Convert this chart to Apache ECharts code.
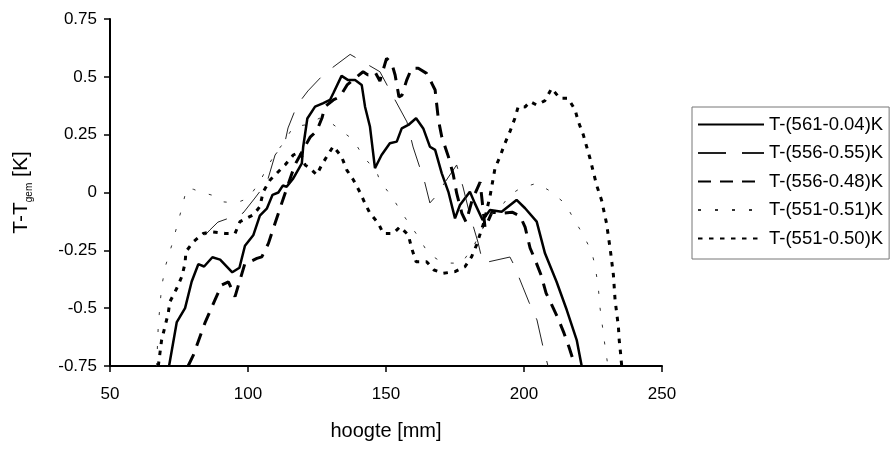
<!DOCTYPE html>
<html>
<head>
<meta charset="utf-8">
<script src="https://cdn.jsdelivr.net/npm/echarts@6/dist/echarts.min.js"></script>
<style>
html,body{margin:0;padding:0;background:#fff;}
#chart{width:896px;height:450px;}
</style>
</head>
<body>
<div id="chart"></div>
<script>
// Series names (legend)
const seriesNames = ['T-(561-0.04)K', 'T-(556-0.55)K', 'T-(556-0.48)K', 'T-(551-0.51)K', 'T-(551-0.50)K'];

// Axis ticks
const xTicks = [50, 100, 150, 200, 250];
const yTicks = [-0.75, -0.5, -0.25, 0, 0.25, 0.5, 0.75];
const yTickLabels = ['-0.75', '-0.5', '-0.25', '0', '0.25', '0.5', '0.75'];

// [hoogte mm, T - Tgem K]
const s561_004 = [[71.4,-0.75],[74.2,-0.56],[77.2,-0.50],[79.6,-0.385],[82.0,-0.31],[84.1,-0.32],[87.1,-0.28],[89.9,-0.29],[94.3,-0.345],[96.9,-0.325],[98.9,-0.23],[101.9,-0.185],[104.3,-0.10],[106.8,-0.07],[108.9,-0.01],[111.0,0.0],[112.6,0.03],[114.0,0.025],[116.4,0.061],[119.5,0.126],[120.0,0.198],[121.5,0.32],[124.3,0.371],[127.3,0.386],[129.7,0.40],[130.9,0.429],[133.9,0.504],[136.3,0.486],[138.8,0.486],[141.2,0.465],[142.4,0.371],[144.2,0.284],[146.0,0.105],[148.4,0.162],[151.4,0.213],[153.9,0.22],[155.7,0.277],[158.1,0.292],[160.9,0.321],[163.5,0.277],[165.9,0.198],[167.8,0.184],[170.2,0.083],[172.6,0.003],[175.0,-0.112],[176.8,-0.054],[180.4,0.003],[182.2,-0.047],[185.0,-0.119],[187.7,-0.076],[191.9,-0.083],[197.3,-0.032],[200.4,-0.068],[204.6,-0.126],[207.6,-0.263],[211.8,-0.386],[215.5,-0.508],[219.1,-0.638],[220.9,-0.75]];

const s556_055 = [[84.4,-0.185],[86.2,-0.162],[89.1,-0.128],[98.2,-0.089],[102.5,-0.024],[106.9,0.045],[109.8,0.162],[113.4,0.218],[114.5,0.279],[117.8,0.378],[121.7,0.439],[127.2,0.508],[130.4,0.538],[137.0,0.597],[139.9,0.577],[147.8,0.522],[152.5,0.417],[157.6,0.305],[159.8,0.197],[162.3,0.106],[164.1,0.041],[165.9,-0.045],[167.8,-0.02],[171.4,0.045],[175.6,0.119],[177.9,0.024],[180.4,-0.097],[183.3,-0.214],[185.1,-0.305],[187.0,-0.30],[194.9,-0.279],[196.4,-0.314],[199.6,-0.409],[201.8,-0.474],[204.7,-0.551],[206.9,-0.668],[208.7,-0.75]];

const s556_048 = [[78.3,-0.75],[80.2,-0.703],[84.4,-0.564],[88.0,-0.465],[90.5,-0.40],[92.9,-0.386],[95.3,-0.45],[97.1,-0.378],[98.9,-0.306],[100.7,-0.299],[103.2,-0.285],[105.0,-0.278],[107.4,-0.22],[109.8,-0.133],[112.2,-0.047],[117.0,0.12],[122.5,0.239],[124.9,0.266],[126.8,0.322],[127.9,0.371],[130.9,0.40],[133.3,0.414],[135.9,0.465],[138.8,0.494],[141.7,0.522],[143.5,0.508],[146.0,0.521],[147.8,0.482],[150.2,0.58],[152.1,0.558],[153.3,0.508],[154.7,0.413],[155.8,0.421],[157.5,0.486],[159.3,0.537],[161.7,0.537],[164.7,0.515],[166.6,0.472],[167.8,0.443],[169.0,0.313],[170.2,0.241],[171.4,0.198],[172.6,0.155],[174.4,0.076],[175.6,-0.003],[177.5,-0.09],[179.0,-0.128],[181.2,-0.033],[184.1,0.045],[185.9,-0.153],[188.4,-0.085],[192.4,-0.089],[195.7,-0.085],[198.6,-0.102],[200.4,-0.15],[202.2,-0.24],[204.0,-0.29],[206.2,-0.357],[208.0,-0.435],[210.1,-0.487],[212.3,-0.543],[214.5,-0.608],[216.3,-0.668],[217.8,-0.724],[218.5,-0.75]];

const s551_051 = [[66.9,-0.75],[67.5,-0.573],[68.7,-0.407],[70.2,-0.314],[72.4,-0.227],[74.2,-0.148],[76.0,-0.068],[77.8,0.018],[80.2,0.014],[82.6,0.003],[86.8,-0.011],[90.5,-0.04],[95.7,-0.045],[100.1,-0.025],[104.3,0.047],[107.4,0.119],[110.4,0.176],[112.8,0.213],[116.4,0.284],[120.7,0.292],[126.1,0.322],[130.3,0.299],[135.8,0.249],[138.2,0.227],[141.8,0.155],[146.6,0.09],[147.8,0.05],[152.1,-0.018],[155.7,-0.087],[157.5,-0.119],[161.7,-0.191],[165.3,-0.263],[169.0,-0.292],[173.2,-0.305],[177.4,-0.306],[181.6,-0.234],[184.8,-0.162],[187.7,-0.097],[191.3,-0.068],[194.9,-0.011],[198.6,0.018],[204.6,0.04],[208.8,0.011],[214.9,-0.047],[217.9,-0.112],[221.5,-0.184],[224.5,-0.256],[225.7,-0.314],[226.9,-0.407],[227.5,-0.494],[229.3,-0.659],[230.4,-0.75]];

const s551_050 = [[67.5,-0.75],[68.7,-0.638],[69.9,-0.58],[71.1,-0.522],[71.7,-0.472],[74.2,-0.414],[76.0,-0.364],[77.2,-0.306],[77.5,-0.256],[80.2,-0.213],[83.8,-0.177],[86.8,-0.17],[91.7,-0.177],[95.3,-0.177],[97.1,-0.126],[101.9,-0.097],[104.3,-0.061],[105.5,0.003],[108.0,0.054],[110.4,0.083],[113.4,0.119],[116.4,0.162],[118.8,0.176],[120.7,0.119],[122.5,0.105],[124.9,0.076],[126.7,0.119],[129.1,0.166],[130.9,0.2],[133.9,0.155],[135.8,0.097],[138.2,0.054],[140.6,0.0],[142.4,-0.047],[144.2,-0.09],[147.2,-0.133],[149.0,-0.177],[152.6,-0.177],[155.1,-0.148],[158.1,-0.184],[159.3,-0.241],[160.9,-0.299],[164.7,-0.299],[167.4,-0.335],[170.8,-0.349],[175.0,-0.342],[178.6,-0.321],[181.0,-0.278],[182.8,-0.227],[185.5,-0.128],[187.7,-0.015],[189.5,0.105],[191.3,0.155],[193.1,0.213],[194.9,0.263],[196.7,0.321],[197.9,0.371],[200.4,0.37],[202.2,0.393],[204.6,0.378],[207.6,0.397],[210.0,0.45],[213.0,0.407],[216.0,0.407],[218.5,0.357],[219.7,0.306],[221.5,0.249],[222.7,0.198],[223.9,0.148],[225.1,0.09],[226.3,0.032],[228.1,-0.033],[229.9,-0.133],[230.5,-0.184],[231.2,-0.241],[231.8,-0.299],[232.4,-0.357],[233.0,-0.465],[233.6,-0.522],[234.2,-0.58],[234.5,-0.638],[235.0,-0.696],[235.4,-0.75]];

const seriesData = [s561_004, s556_055, s556_048, s551_051, s551_050];

const FONT = "'Liberation Sans', Arial, Helvetica, sans-serif";
const styles = [
  { color: '#000', width: 2.5, type: 'solid' },
  { color: '#222', width: 1, type: [28, 16] },
  { color: '#000', width: 3, type: [13, 9] },
  { color: '#333', width: 1, type: [3, 14] },
  { color: '#000', width: 3, type: [4.5, 6.5] }
];

const chart = echarts.init(document.getElementById('chart'), null, { renderer: 'canvas' });

const option = {
  animation: false,
  backgroundColor: '#ffffff',
  textStyle: { fontFamily: FONT },
  grid: { left: 110, top: 19, width: 552, height: 347, containLabel: false },
  legend: {
    orient: 'vertical',
    left: 692,
    top: 107,
    itemWidth: 66,
    itemHeight: 14,
    itemGap: 9.5,
    padding: [8, 6, 11, 5],
    borderColor: '#777',
    borderWidth: 1,
    backgroundColor: '#fff',
    itemStyle: { opacity: 0 },
    textStyle: { fontSize: 18.5, color: '#000', fontFamily: FONT },
    data: seriesNames
  },
  xAxis: {
    type: 'value',
    min: xTicks[0],
    max: xTicks[xTicks.length - 1],
    interval: xTicks[1] - xTicks[0],
    name: 'hoogte [mm]',
    nameLocation: 'middle',
    nameGap: 55,
    nameTextStyle: { fontSize: 20, color: '#000', fontFamily: FONT },
    axisLine: { onZero: false, lineStyle: { color: '#000', width: 2 } },
    axisTick: { length: 6, lineStyle: { color: '#000', width: 1.5 } },
    axisLabel: { fontSize: 17, color: '#000', margin: 20, fontFamily: FONT },
    splitLine: { show: false }
  },
  yAxis: {
    type: 'value',
    min: yTicks[0],
    max: yTicks[yTicks.length - 1],
    interval: yTicks[1] - yTicks[0],
    name: '{a|T-T}{s|gem}{a| [K]}',
    nameLocation: 'middle',
    nameGap: 76,
    nameRotate: 90,
    nameTextStyle: {
      color: '#000',
      fontFamily: FONT,
      rich: {
        a: { fontSize: 21, color: '#000', fontFamily: FONT, lineHeight: 26, verticalAlign: 'middle' },
        s: { fontSize: 10, color: '#000', fontFamily: FONT, lineHeight: 26, verticalAlign: 'bottom' }
      }
    },
    axisLine: { onZero: false, lineStyle: { color: '#000', width: 2 } },
    axisTick: { length: 6, lineStyle: { color: '#000', width: 1.5 } },
    axisLabel: {
      fontSize: 17, color: '#000', margin: 13, fontFamily: FONT,
      formatter: function (v) {
        const i = yTicks.findIndex(t => Math.abs(t - v) < 1e-9);
        return i >= 0 ? yTickLabels[i] : String(v);
      }
    },
    splitLine: { show: false }
  },
  series: seriesNames.map((name, i) => ({
    name: name,
    type: 'line',
    data: seriesData[i],
    showSymbol: false,
    symbol: 'none',
    smooth: false,
    clip: true,
    lineStyle: { color: styles[i].color, width: styles[i].width, type: styles[i].type },
    itemStyle: { color: styles[i].color },
    z: 2 + i
  }))
};

chart.setOption(option);
</script>
</body>
</html>
